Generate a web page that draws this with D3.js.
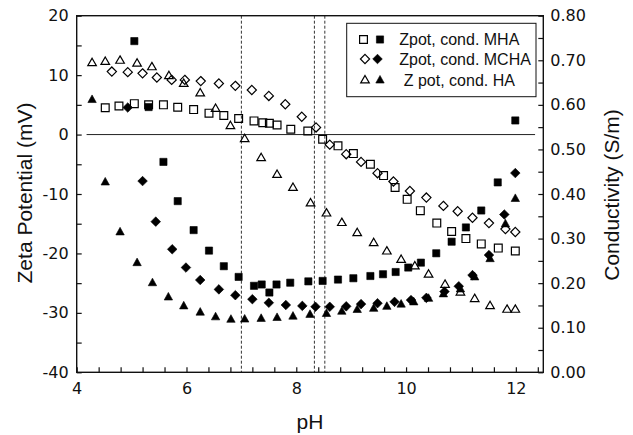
<!DOCTYPE html>
<html><head><meta charset="utf-8">
<script src="https://cdn.jsdelivr.net/npm/d3@7"></script>
<style>body{margin:0;background:#fff} svg{display:block}</style>
</head><body><svg id="c" width="633" height="435"></svg>
<script>
// ---------- data ----------
const mhaZetaPH = [4.52,4.77,5.05,5.31,5.58,5.84,6.13,6.41,6.68,6.95,7.23,7.39,7.51,7.65,7.90,8.21,8.48,8.76,9.04,9.35,9.59,9.80,10.02,10.26,10.56,10.83,11.09,11.37,11.68,11.99];
const mhaZeta   = [4.5,4.8,5.2,5.0,5.0,4.6,4.2,3.6,3.2,2.7,2.3,2.0,1.9,1.6,0.9,0.6,-0.8,-1.9,-3.2,-5.0,-6.9,-8.9,-10.9,-12.8,-14.9,-16.3,-17.5,-18.4,-19.1,-19.6];
const mchaZetaPH = [4.64,4.93,5.20,5.46,5.73,5.97,6.26,6.59,6.89,7.19,7.50,7.80,8.10,8.36,8.61,8.91,9.18,9.48,9.77,10.07,10.37,10.68,10.94,11.21,11.51,11.81,11.99];
const mchaZeta   = [10.6,10.5,10.3,9.6,9.2,9.2,9.0,8.6,8.2,7.5,6.5,5.1,3.0,1.2,-1.7,-3.3,-4.6,-6.5,-7.9,-9.5,-10.6,-12.0,-12.9,-14.0,-14.9,-15.9,-16.4];
const haZetaPH = [4.28,4.52,4.79,5.10,5.37,5.68,5.95,6.25,6.53,6.80,7.06,7.36,7.65,7.94,8.26,8.55,8.83,9.11,9.41,9.65,9.91,10.16,10.41,10.71,10.99,11.25,11.53,11.84,11.99];
const haZeta   = [12.1,12.3,12.5,12.0,11.4,9.9,8.6,7.0,4.4,1.5,-0.7,-3.9,-6.7,-8.9,-11.5,-13.2,-14.8,-16.5,-18.2,-19.6,-21.0,-22.1,-23.5,-25.2,-26.5,-27.6,-28.8,-29.4,-29.4];

const mhaCondPH = [5.05,5.31,5.58,5.84,6.13,6.41,6.68,6.95,7.23,7.37,7.51,7.64,7.89,8.22,8.48,8.76,9.04,9.35,9.58,9.81,10.04,10.27,10.55,10.83,11.09,11.37,11.67,11.99];
const mhaCond   = [0.743,0.595,0.472,0.384,0.319,0.273,0.238,0.214,0.194,0.197,0.179,0.197,0.201,0.204,0.205,0.208,0.211,0.216,0.220,0.225,0.235,0.246,0.267,0.293,0.325,0.363,0.426,0.565];
const mchaCondPH = [4.93,5.20,5.44,5.74,5.99,6.25,6.59,6.89,7.20,7.50,7.81,8.11,8.35,8.61,8.91,9.18,9.48,9.79,10.09,10.37,10.70,10.96,11.21,11.51,11.79,11.99];
const mchaCond   = [0.594,0.429,0.338,0.276,0.235,0.207,0.186,0.173,0.164,0.156,0.151,0.149,0.147,0.147,0.148,0.153,0.155,0.158,0.162,0.167,0.181,0.193,0.218,0.263,0.354,0.447];
const haCondPH = [4.28,4.52,4.79,5.10,5.38,5.67,5.95,6.25,6.53,6.81,7.06,7.36,7.65,7.94,8.25,8.55,8.83,9.11,9.41,9.65,9.91,10.14,10.41,10.68,10.99,11.25,11.53,11.81,11.99];
const haCond   = [0.612,0.427,0.315,0.246,0.201,0.169,0.149,0.135,0.1245,0.119,0.1195,0.121,0.123,0.126,0.130,0.132,0.137,0.141,0.1435,0.148,0.153,0.158,0.166,0.176,0.187,0.214,0.255,0.333,0.390];

const dashPH = [7.0, 8.33, 8.52];
const zeroLinePH = [4.18, 12.35];
const xTicks = d3.range(0, 22).map(i => 4 + i * 0.4);
const yLTicks = d3.range(-40, 21, 5);
const yRTicks = d3.range(0, 17).map(i => i * 0.05);
const legendLabels = ["Zpot, cond. MHA", "Zpot, cond. MCHA", " Z pot, cond. HA"];

// ---------- layout ----------
const svg = d3.select("#c");
const L = 76.7, R = 543.3, T = 15.7, B = 372.3;
const x = d3.scaleLinear().domain([4, 12.5]).range([L, R]);
const yL = d3.scaleLinear().domain([-40, 20]).range([B, T]);
const yR = d3.scaleLinear().domain([0, 0.8]).range([B, T]);
const tickFont = "'DejaVu Sans', sans-serif";
const titleFont = "'Liberation Sans', Arial, sans-serif";

// shapes
function sq(s){ const h=s/2; return `M${-h},${-h}H${h}V${h}H${-h}Z`; }
function dia(s){ const h=s/2; return `M0,${-h}L${h},0L0,${h}L${-h},0Z`; }
function tri(w,hh){ return `M0,${-hh*0.6}L${w/2},${hh*0.4}L${-w/2},${hh*0.4}Z`; }
const shapes = {
  sqO: sq(7.8), sqF: sq(7.2),
  diO: dia(9.2), diF: dia(9.6),
  trO: tri(8.6,7.4), trF: tri(8.4,7.6)
};

// dashed vertical lines
svg.append("g").selectAll("line").data(dashPH).join("line")
  .attr("x1", d => x(d)).attr("x2", d => x(d))
  .attr("y1", T).attr("y2", B)
  .attr("stroke", "#333").attr("stroke-width", 1).attr("stroke-dasharray", "3,2");

// zero line
svg.append("line")
  .attr("x1", x(zeroLinePH[0])).attr("x2", x(zeroLinePH[1]))
  .attr("y1", yL(0)).attr("y2", yL(0))
  .attr("stroke", "#222").attr("stroke-width", 1);

// axes
const fmtX = d => { const r = Math.round(d); return (Math.abs(d - r) < 1e-6 && r % 2 === 0) ? r : ""; };
const fmtL = d => (d % 10 === 0) ? d : "";
const fmtR = d => { const v = Math.round(d * 100); return (v % 10 === 0) ? d3.format(".2f")(d) : ""; };

const gx = svg.append("g").attr("transform", `translate(0,${B})`)
  .call(d3.axisBottom(x).tickValues(xTicks).tickSize(-5).tickPadding(10).tickFormat(fmtX));
const gl = svg.append("g").attr("transform", `translate(${L},0)`)
  .call(d3.axisLeft(yL).tickValues(yLTicks).tickSize(-5).tickPadding(8).tickFormat(fmtL));
const gr = svg.append("g").attr("transform", `translate(${R},0)`)
  .call(d3.axisRight(yR).tickValues(yRTicks).tickSize(-5).tickPadding(7).tickFormat(fmtR));
[gx, gl, gr].forEach(g => {
  g.select(".domain").remove();
  g.selectAll(".tick line").attr("stroke", "#111").attr("stroke-width", 1.2);
  g.selectAll("text").attr("font-family", tickFont).attr("font-size", 16).attr("fill", "#111");
});

// frame
svg.append("rect").attr("x", L).attr("y", T).attr("width", R - L).attr("height", B - T)
  .attr("fill", "none").attr("stroke", "#111").attr("stroke-width", 1.4);

// markers
function drawSeries(px, vals, scale, shape, filled){
  svg.append("g").selectAll("path").data(px.map((p,i)=>[p, vals[i]])).join("path")
    .attr("transform", d => `translate(${x(d[0])},${scale(d[1])})`)
    .attr("d", shape)
    .attr("fill", filled ? "#000" : "none")
    .attr("stroke", "#000")
    .attr("stroke-width", filled ? 0.6 : 1.2);
}
drawSeries(mhaZetaPH, mhaZeta, yL, shapes.sqO, false);
drawSeries(mchaZetaPH, mchaZeta, yL, shapes.diO, false);
drawSeries(haZetaPH, haZeta, yL, shapes.trO, false);
drawSeries(mhaCondPH, mhaCond, yR, shapes.sqF, true);
drawSeries(mchaCondPH, mchaCond, yR, shapes.diF, true);
drawSeries(haCondPH, haCond, yR, shapes.trF, true);

// legend
const lg = svg.append("g");
lg.append("rect").attr("x", 346.7).attr("y", 23.3).attr("width", 189.3).attr("height", 73.4)
  .attr("fill", "#fff").attr("stroke", "#111").attr("stroke-width", 1);
const legRows = [
  {o: shapes.sqO, f: shapes.sqF, ox: 363.5, fx: 380, y: 39.5},
  {o: shapes.diO, f: shapes.diF, ox: 365, fx: 377.5, y: 59},
  {o: shapes.trO, f: shapes.trF, ox: 365, fx: 380, y: 80}
];
legRows.forEach((r, i) => {
  lg.append("path").attr("transform", `translate(${r.ox},${r.y})`).attr("d", r.o)
    .attr("fill", "none").attr("stroke", "#000").attr("stroke-width", 1.2);
  lg.append("path").attr("transform", `translate(${r.fx},${r.y})`).attr("d", r.f)
    .attr("fill", "#000").attr("stroke", "#000").attr("stroke-width", 0.6);
  lg.append("text").attr("x", 399.3).attr("y", r.y + 5.7)
    .attr("font-family", titleFont).attr("font-size", 16).attr("fill", "#111")
    .attr("xml:space", "preserve").style("white-space", "pre")
    .text(legendLabels[i]);
});

// titles
svg.append("text").attr("x", (L + R) / 2).attr("y", 429)
  .attr("text-anchor", "middle").attr("font-family", titleFont).attr("font-size", 21).attr("fill", "#111")
  .text("pH");
svg.append("text").attr("transform", `translate(32,${(T + B) / 2 - 1}) rotate(-90)`)
  .attr("text-anchor", "middle").attr("font-family", titleFont).attr("font-size", 21).attr("fill", "#111")
  .text("Zeta Potential (mV)");
svg.append("text").attr("transform", `translate(619,${(T + B) / 2 + 1}) rotate(-90)`)
  .attr("text-anchor", "middle").attr("font-family", titleFont).attr("font-size", 21).attr("fill", "#111")
  .text("Conductivity (S/m)");
</script></body></html>
